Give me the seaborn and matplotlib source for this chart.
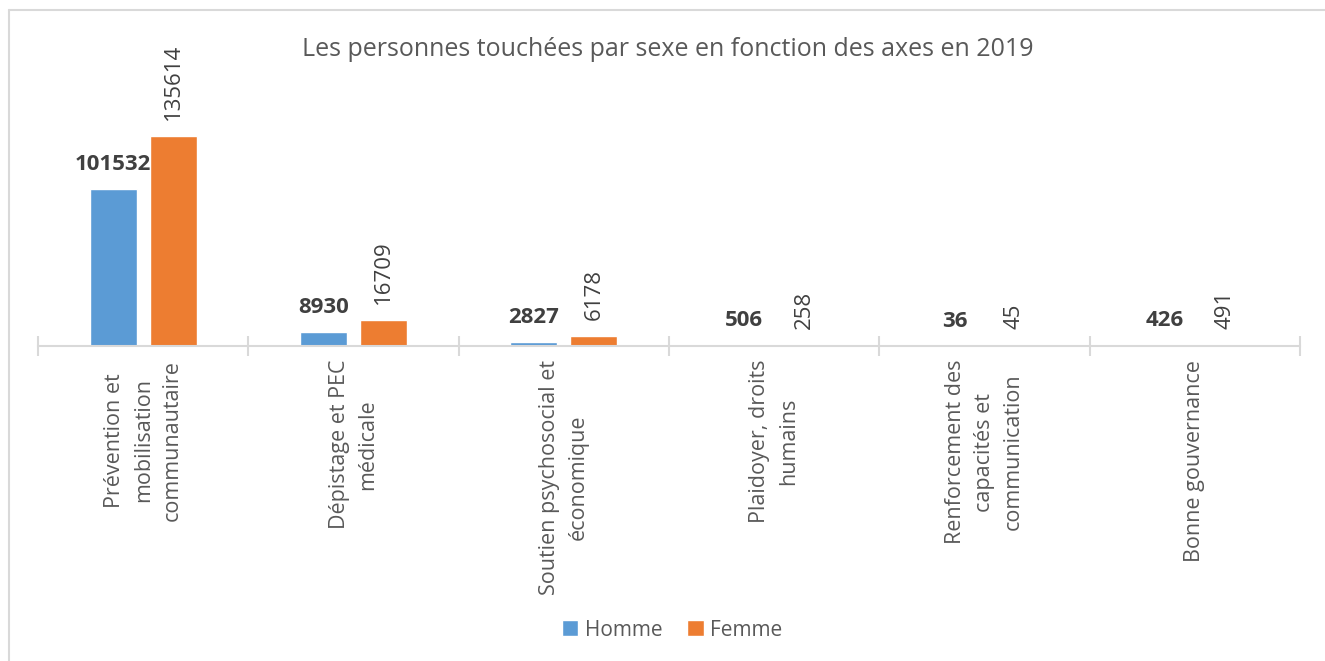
import pandas as pd
import matplotlib.pyplot as plt
import seaborn as sns
from matplotlib.lines import Line2D

categories = ["Prévention et\nmobilisation\ncommunautaire",
              "Dépistage et PEC\nmédicale",
              "Soutien psychosocial et\néconomique",
              "Plaidoyer, droits\nhumains",
              "Renforcement des\ncapacités et\ncommunication",
              "Bonne gouvernance"]
homme = [101532, 8930, 2827, 506, 36, 426]
femme = [135614, 16709, 6178, 258, 45, 491]
series = ["Homme", "Femme"]
colors = ["#5B9BD5", "#ED7D31"]

df = pd.DataFrame({
    "Axe": categories * 2,
    "Sexe": [series[0]] * len(categories) + [series[1]] * len(categories),
    "Valeur": homme + femme,
})

sns.set_style("white")
plt.rcParams['font.family'] = ['Open Sans', 'DejaVu Sans']

W, H = 1325, 661
fig = plt.figure(figsize=(W / 100, H / 100), dpi=100)
ax = fig.add_axes([38 / W, (H - 346) / H, 1262 / W, 316 / H])

sns.barplot(data=df, x="Axe", y="Valeur", hue="Sexe", palette=colors,
            width=0.57, gap=0.22, ax=ax, saturation=1)

ax.set_xlim(-0.5, len(categories) - 0.5)
ax.set_ylim(0, 204400)
ax.set_xlabel("")
ax.set_ylabel("")
ax.set_yticks([])
for s in ["top", "left", "right"]:
    ax.spines[s].set_visible(False)
ax.spines["bottom"].set_color("#D9D9D9")
ax.spines["bottom"].set_linewidth(1.5)

# ticks between categories
ax.set_xticks(range(len(categories)))
ax.set_xticklabels(categories, rotation=90, fontsize=15.5, color="#595959",
                   ha="center", va="top", multialignment="center", linespacing=1.5)
ax.set_xticks([i - 0.5 for i in range(len(categories) + 1)], minor=True)
ax.tick_params(axis="x", which="minor", bottom=True, direction="inout", length=14,
               width=1.5, color="#D9D9D9")
ax.tick_params(axis="x", which="major", bottom=False, length=0, pad=10)

# value labels
for cont, name in zip(ax.containers, series):
    for bar, v in zip(cont, homme if name == "Homme" else femme):
        x = bar.get_x() + bar.get_width() / 2
        y = bar.get_height()
        if name == "Homme":
            ax.annotate(str(v), (x, y), xytext=(0, 10), textcoords="offset points",
                        ha="center", va="bottom", fontsize=16, fontweight="bold",
                        color="#404040")
        else:
            ax.annotate(str(v), (x, y), xytext=(0, 12), textcoords="offset points",
                        ha="center", va="bottom", fontsize=16, rotation=90,
                        color="#404040")

handles, labels = ax.get_legend_handles_labels()
ax.legend_.remove()
fig.legend(handles, labels, loc="center", bbox_to_anchor=(672 / W, 1 - 630 / H),
           ncol=2, frameon=False, fontsize=15, handlelength=0.8, handleheight=0.8,
           handletextpad=0.3, columnspacing=1.2, labelcolor="#595959")

fig.text(668 / W, 1 - 50 / H, "Les personnes touchées par sexe en fonction des axes en 2019",
         ha="center", va="center", fontsize=18, color="#595959")

# outer border (top and left)
fig.add_artist(Line2D([9 / W, 9 / W], [0, 1 - 10 / H], transform=fig.transFigure,
                      color="#D9D9D9", linewidth=1.5))
fig.add_artist(Line2D([9 / W, 1], [1 - 10 / H, 1 - 10 / H], transform=fig.transFigure,
                      color="#D9D9D9", linewidth=1.5))

fig.savefig("out.png", dpi=100)
